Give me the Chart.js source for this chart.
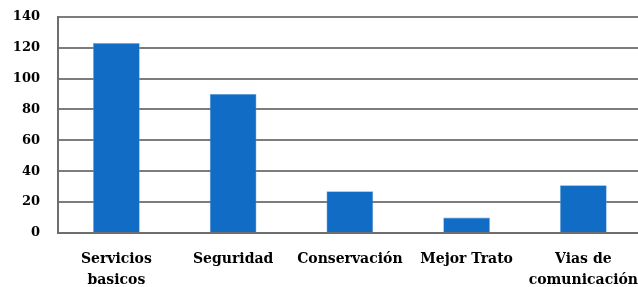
<!DOCTYPE html>
<html>
<head>
<meta charset="utf-8">
<script src="https://cdn.jsdelivr.net/npm/chart.js@4"></script>
<style>
  html, body { margin: 0; padding: 0; background: #fff; overflow: hidden; }
  #wrap { width: 654px; height: 296px; margin-top: -9px; }
</style>
</head>
<body>
<div id="wrap"><canvas id="Chart"></canvas></div>
<script>
// categorías y valores
var categorias = [['Servicios', 'basicos'], 'Seguridad', 'Conservación', 'Mejor Trato', ['Vias de', 'comunicación']];
var valores = [123, 90, 27, 10, 31];
var yMin = 0, yMax = 140, yPaso = 20;

var fuente = "'DejaVu Serif', 'Liberation Serif', serif";

var context = document.getElementById('Chart').getContext('2d');

var myChart = new Chart(context, {
    type: 'bar',
    data: {
        labels: categorias,
        datasets: [{
            data: valores,
            backgroundColor: '#106cc4',
            borderColor: '#6fa6dc',
            borderWidth: 0.6,
            categoryPercentage: 1,
            barPercentage: 0.4
        }]
    },
    options: {
        responsive: true,
        maintainAspectRatio: false,
        animation: false,
        layout: { padding: 0 },
        scales: {
            x: {
                grid: { display: false, drawTicks: false },
                border: { display: true, color: '#6e6e6e', width: 2 },
                ticks: {
                    color: '#000',
                    padding: 16,
                    maxRotation: 0,
                    autoSkip: false,
                    font: { family: fuente, size: 14, weight: 'bold', lineHeight: 1.5 }
                },
                afterFit: function (scale) { scale.height = 54; }
            },
            y: {
                min: yMin,
                max: yMax,
                grid: { color: '#7c7c7c', lineWidth: 2, drawTicks: false },
                border: { display: true, color: '#6e6e6e', width: 2 },
                ticks: {
                    stepSize: yPaso,
                    color: '#000',
                    padding: 18,
                    font: { family: fuente, size: 13, weight: 'bold' }
                },
                afterFit: function (scale) { scale.width = 58; }
            }
        },
        plugins: {
            legend: { display: false },
            tooltip: { enabled: false }
        }
    }
});
</script>
</body>
</html>
